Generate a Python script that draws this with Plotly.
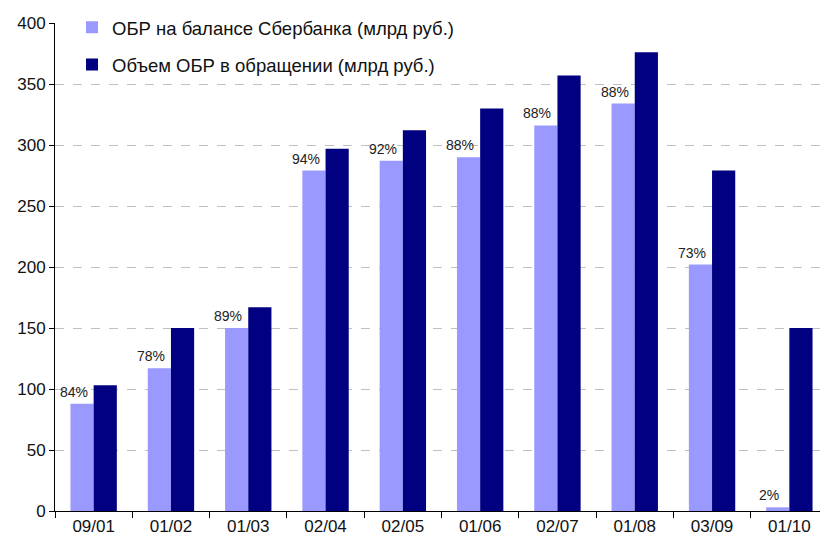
import plotly.graph_objects as go

categories = ["09/01", "01/02", "01/03", "02/04", "02/05", "01/06", "02/07", "01/08", "03/09", "01/10"]
sber_balance = [88, 117, 150, 279, 287, 290, 316, 334, 202, 3]
in_circulation = [103, 150, 167, 297, 312, 330, 357, 376, 279, 150]
share_labels = ["84%", "78%", "89%", "94%", "92%", "88%", "88%", "88%", "73%", "2%"]

font_family = "Liberation Sans, Arial, sans-serif"

fig = go.Figure()
fig.add_trace(go.Bar(
    x=categories, y=sber_balance, name="ОБР на балансе Сбербанка (млрд руб.)",
    marker=dict(color="#9999FF", line=dict(width=0)),
    legendgroup="a",
))
fig.add_trace(go.Bar(
    x=categories, y=in_circulation, name="Объем ОБР в обращении (млрд руб.)",
    marker=dict(color="#000080", line=dict(width=0)),
    legendgroup="b",
))

for c, v, t in zip(categories, sber_balance, share_labels):
    fig.add_annotation(
        x=c, y=v, text=t, showarrow=False, xanchor="center", yanchor="bottom",
        xshift=-20, yshift=2, font=dict(size=14, color="#222222", family=font_family),
    )

fig.update_layout(
    width=828, height=547,
    margin=dict(l=47, r=8, t=15, b=44, autoexpand=False),
    plot_bgcolor="white", paper_bgcolor="white",
    barmode="group", bargap=0.4, bargroupgap=0,
    font=dict(family=font_family, size=17, color="#111111"),
    showlegend=True,
    legend=dict(
        x=0.022, y=1.029, xanchor="left", yanchor="top",
        bgcolor="rgba(0,0,0,0)", font=dict(size=18.5, color="#111111"),
        traceorder="grouped", tracegroupgap=10, itemwidth=30,
    ),
)
fig.update_xaxes(
    type="category", showline=True, linecolor="#000000", linewidth=1,
    ticks="outside", tickson="boundaries", ticklen=6, tickcolor="#000000",
    showgrid=False, tickfont=dict(size=17),
)
fig.update_yaxes(
    range=[0, 400], dtick=50, showline=True, linecolor="#000000", linewidth=1,
    ticks="outside", ticklen=5, tickcolor="#000000",
    showgrid=True, gridcolor="#C0C0C0", griddash="dash", gridwidth=1,
    zeroline=False, tickfont=dict(size=17),
)

fig.write_html("out.html")
